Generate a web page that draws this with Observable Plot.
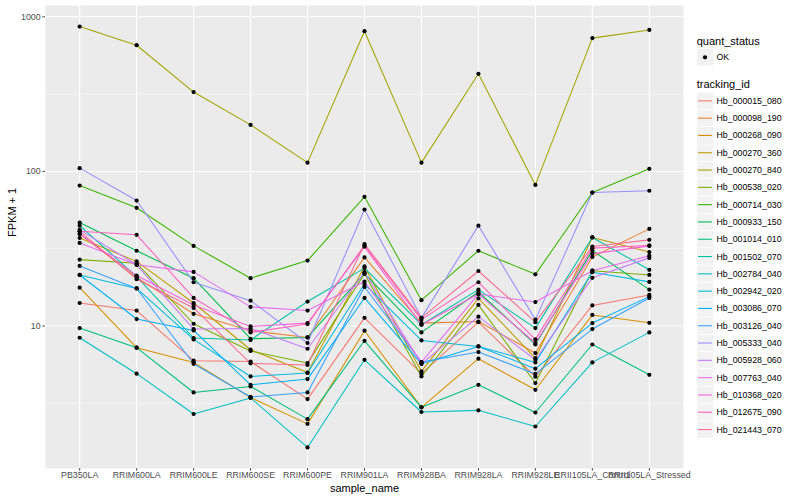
<!DOCTYPE html>
<html>
<head>
<meta charset="utf-8">
<script src="https://cdn.jsdelivr.net/npm/d3@7"></script>
<script src="https://cdn.jsdelivr.net/npm/@observablehq/plot@0.6"></script>
<style>
  html, body { margin: 0; padding: 0; background: white; }
  #wrap { position: relative; width: 800px; height: 500px; font-family: "Liberation Sans", Arial, Helvetica, sans-serif; }
  #chart { position: absolute; left: 0; top: 0; }
  #legend { position: absolute; left: 0; top: 0; }
</style>
</head>
<body>
<div id="wrap"><div id="chart"></div><svg id="legend" width="800" height="500" style="pointer-events:none"></svg></div>
<script>
// ---- data (FPKM + 1) ----
const samples = ["PB350LA","RRIM600LA","RRIM600LE","RRIM600SE","RRIM600PE","RRIM901LA","RRIM928BA","RRIM928LA","RRIM928LE","RRII105LA_Control","RRII105LA_Stressed"];
const trackingIds = ["Hb_000015_080","Hb_000098_190","Hb_000268_090","Hb_000270_360","Hb_000270_840","Hb_000538_020","Hb_000714_030","Hb_000933_150","Hb_001014_010","Hb_001502_070","Hb_002784_040","Hb_002942_020","Hb_003086_070","Hb_003126_040","Hb_005333_040","Hb_005928_060","Hb_007763_040","Hb_010368_020","Hb_012675_090","Hb_021443_070"];
const colors = ["#F8766D","#EA8331","#D89000","#C09B00","#A3A500","#7CAE00","#39B600","#00BB4E","#00BF7D","#00C1A3","#00BFC4","#00BAE0","#00B0F6","#35A2FF","#9590FF","#C77CFF","#E76BF3","#FA62DB","#FF62BC","#FF6C91"];
const quantStatus = ["OK"];

const Hb_000015_080 = [14.1, 12.6, 5.97, 5.9, 3.37, 11.3, 4.92, 10.6, 4.7, 13.6, 15.9];
const Hb_000098_190 = [39.4, 20.6, 12.0, 9.33, 8.44, 27.8, 10.45, 10.7, 6.69, 28.0, 42.5];
const Hb_000268_090 = [17.7, 7.25, 5.82, 3.45, 2.33, 9.33, 2.98, 6.15, 3.87, 11.8, 10.5];
const Hb_000270_360 = [37.1, 26.2, 14.1, 7.03, 5.0, 24.3, 5.09, 15.1, 6.2, 37.4, 30.1];
const Hb_000270_840 = [865, 655, 326, 200, 114, 807, 114, 428, 81.8, 728, 822];
const Hb_000538_020 = [26.9, 25.5, 10.35, 6.9, 5.76, 21.8, 4.72, 13.7, 4.28, 22.8, 21.4];
const Hb_000714_030 = [81, 58.2, 33, 20.4, 26.5, 68.5, 14.7, 30.7, 21.6, 73, 104];
const Hb_000933_150 = [46.7, 30.7, 20.4, 8.28, 8.44, 21.8, 9.1, 16.6, 7.6, 30.8, 17.2];
const Hb_001014_010 = [9.7, 7.25, 3.72, 4.07, 2.5, 8.03, 2.98, 4.17, 2.76, 7.6, 4.84];
const Hb_001502_070 = [44.6, 20.9, 8.37, 8.12, 14.4, 23.7, 10.2, 17.2, 9.7, 37.4, 23.1];
const Hb_002784_040 = [8.4, 4.92, 2.7, 3.43, 1.64, 6.05, 2.78, 2.85, 2.24, 5.82, 9.1];
const Hb_002942_020 = [21.4, 17.5, 8.2, 4.72, 4.97, 18.7, 8.07, 7.38, 5.82, 22.3, 19.3];
const Hb_003086_070 = [21.4, 11.1, 9.37, 4.17, 4.54, 15.2, 5.7, 7.38, 5.3, 10.45, 15.5];
const Hb_003126_040 = [24.5, 17.5, 5.7, 3.48, 3.72, 17.9, 5.85, 6.79, 4.9, 9.56, 15.2];
const Hb_005333_040 = [105, 64.8, 19.2, 14.6, 7.77, 56.7, 11.3, 44.6, 11.0, 73, 75];
const Hb_005928_060 = [41.9, 24.9, 9.56, 9.65, 7.13, 22.3, 5.7, 11.5, 6.05, 20.5, 27.6];
const Hb_007763_040 = [34.5, 24.9, 22.4, 13.3, 12.6, 19.4, 5.85, 16.1, 14.3, 22.8, 28.5];
const Hb_010368_020 = [39.4, 21.2, 13.7, 9.94, 10.45, 32.6, 10.2, 16.1, 7.77, 29.3, 33.0];
const Hb_012675_090 = [41.0, 38.9, 15.2, 9.1, 10.3, 33.2, 11.0, 19.2, 8.2, 31.9, 33.2];
const Hb_021443_070 = [41.0, 20.1, 13.1, 5.74, 5.6, 33.9, 11.3, 22.7, 10.6, 32.7, 36.1];

const yMajor = [10, 100, 1000];
const yMinor = [3.1623, 31.623, 316.23];

const seriesList = [Hb_000015_080, Hb_000098_190, Hb_000268_090, Hb_000270_360, Hb_000270_840, Hb_000538_020, Hb_000714_030, Hb_000933_150, Hb_001014_010, Hb_001502_070, Hb_002784_040, Hb_002942_020, Hb_003086_070, Hb_003126_040, Hb_005333_040, Hb_005928_060, Hb_007763_040, Hb_010368_020, Hb_012675_090, Hb_021443_070];

const data = [];
seriesList.forEach((vals, i) => vals.forEach((v, j) => data.push({sample: samples[j], id: trackingIds[i], value: v, status: quantStatus[0]})));

// ggplot-like 5% expansion in log space
const ext = d3.extent(data, d => Math.log10(d.value));
const pad = (ext[1] - ext[0]) * 0.05;
const yDomain = [Math.pow(10, ext[0] - pad), Math.pow(10, ext[1] + pad)];

const font = "Liberation Sans, Arial, Helvetica, sans-serif";

const chart = Plot.plot({
  width: 688,
  height: 500,
  marginLeft: 45,
  marginRight: 5,
  marginTop: 5,
  marginBottom: 32,
  style: {fontFamily: font, background: "white", overflow: "visible"},
  x: {type: "point", domain: samples, padding: 0.6, round: false, axis: null},
  y: {type: "log", domain: yDomain, axis: null},
  color: {domain: trackingIds, range: colors},
  marks: [
    Plot.frame({fill: "#EBEBEB"}),
    Plot.ruleY(yMinor, {stroke: "white", strokeWidth: 0.55}),
    Plot.ruleY(yMajor, {stroke: "white", strokeWidth: 1.1}),
    Plot.ruleX(samples, {stroke: "white", strokeWidth: 1.1}),
    Plot.line(data, {x: "sample", y: "value", z: "id", stroke: "id", strokeWidth: 1.07}),
    Plot.dot(data, {x: "sample", y: "value", r: 2.1, fill: "black", stroke: null}),
    Plot.axisY({ticks: yMajor, tickFormat: d => String(d), tickSize: 2.7, tickPadding: 2.2, fontSize: 8.8, color: "#4D4D4D", label: null}),
    Plot.axisX({tickSize: 2.7, tickPadding: 1.0, fontSize: 8.8, color: "#4D4D4D", label: null}),
    Plot.text(["FPKM + 1"], {frameAnchor: "left", dx: -33, rotate: -90, fontSize: 11, fill: "black", text: d => d}),
    Plot.text(["sample_name"], {frameAnchor: "bottom", lineAnchor: "middle", dy: 20, fontSize: 11, fill: "black", text: d => d})
  ]
});
document.getElementById("chart").appendChild(chart);

// ---- legend (SVG, to the right of the plot) ----
const lg = d3.select("#legend").style("font-family", font);
const keyX = 696.7, keyW = 16.6, keyH = 17.3, labelX = 716.5;
function title(txt, cy) {
  lg.append("text").attr("x", keyX).attr("y", cy).attr("dominant-baseline", "central")
    .attr("font-size", 11).attr("fill", "black").text(txt);
}
function label(txt, cy) {
  lg.append("text").attr("x", labelX).attr("y", cy).attr("dominant-baseline", "central")
    .attr("font-size", 8.8).attr("fill", "black").text(txt);
}
function keyBox(top) {
  lg.append("rect").attr("x", keyX).attr("y", top).attr("width", keyW).attr("height", keyH)
    .attr("fill", "#F2F2F2").attr("stroke", "white").attr("stroke-width", 0.6);
}
title("quant_status", 40.5);
{
  const top = 48.7;
  keyBox(top);
  lg.append("circle").attr("cx", keyX + keyW / 2).attr("cy", top + keyH / 2).attr("r", 2.1).attr("fill", "black");
  label(quantStatus[0], top + keyH / 2);
}
title("tracking_id", 84.3);
trackingIds.forEach((id, i) => {
  const top = 92.2 + keyH * i;
  keyBox(top);
  lg.append("line").attr("x1", keyX + 1.4).attr("x2", keyX + keyW - 1.4)
    .attr("y1", top + keyH / 2).attr("y2", top + keyH / 2)
    .attr("stroke", colors[i]).attr("stroke-width", 1.1);
  label(id, top + keyH / 2);
});
</script>
</body>
</html>
